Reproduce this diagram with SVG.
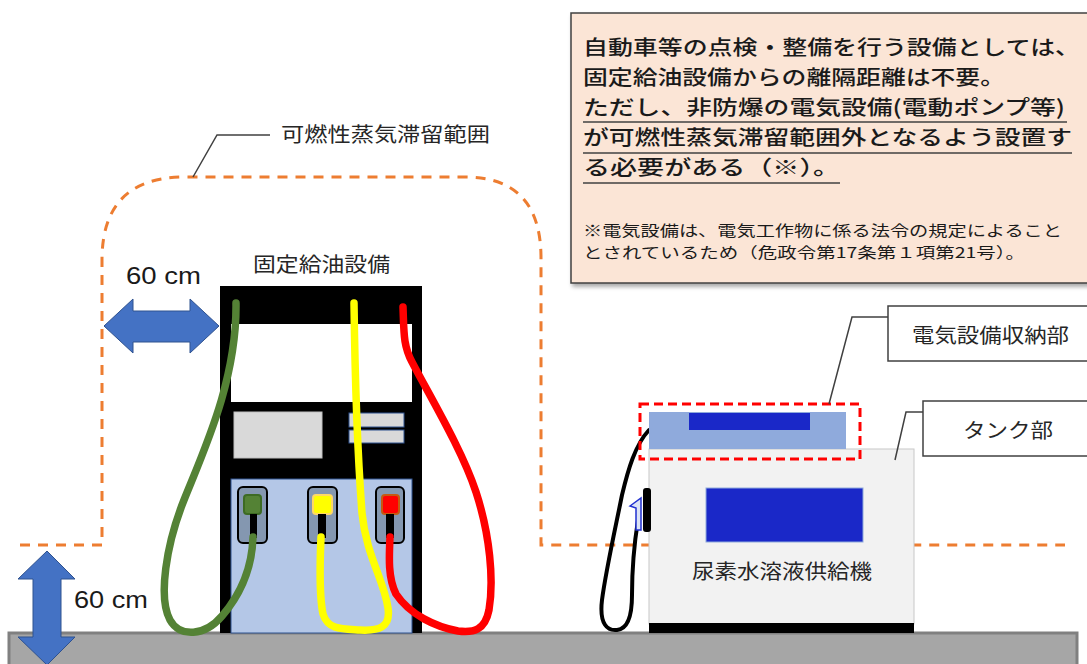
<svg xmlns="http://www.w3.org/2000/svg" width="1087" height="664" viewBox="0 0 1087 664">
  <style>
    .lbl { font-family: "Noto Sans CJK JP", "Noto Sans", sans-serif; font-size: 20px; fill: #262626; }
    .note { font-family: "Noto Sans CJK JP", "Noto Sans", sans-serif; font-size: 20.5px; fill: #1a1a1a; font-weight: 500; }
    .foot { font-family: "Noto Sans CJK JP", "Noto Sans", sans-serif; font-size: 15px; fill: #1a1a1a; }
    .dim { font-family: "Liberation Sans", Arial, sans-serif; font-size: 24px; fill: #1a1a1a; }
    .leader { fill: none; stroke: #404040; stroke-width: 1.5; }
    .callout { fill: #ffffff; stroke: #404040; stroke-width: 1.5; }
    .zone { fill: none; stroke: #ed7d31; stroke-width: 3; stroke-dasharray: 10 8; }
    .arrow { fill: #4472c4; stroke: #2f528f; stroke-width: 1; }
    .hose { fill: none; stroke-width: 7.5; stroke-linecap: round; stroke-linejoin: round; }
    .holder { fill: #8497b0; stroke: #000; stroke-width: 2; }
    .ul { stroke: #404040; stroke-width: 1.5; }
  </style>
  <defs>
    <filter id="shadow" x="-5%" y="-5%" width="115%" height="120%">
      <feDropShadow dx="2" dy="3" stdDeviation="2" flood-color="#000" flood-opacity="0.35"/>
    </filter>
  </defs>

  <rect width="1087" height="664" fill="#ffffff"/>

  <!-- ground slab -->
  <g id="ground">
    <rect x="9" y="633" width="1068" height="40" fill="#a6a6a6" stroke="#808080" stroke-width="3"/>
  </g>

  <!-- vapour retention zone outline and its callout -->
  <g id="vapour-zone">
    <path class="zone" d="M20,545 H102 V260 Q102,177 185,177 H465 Q541,177 541,258 V545 H1065"/>
    <polyline class="leader" points="193,177 217,135 270,135"/>
    <text class="lbl" x="281" y="142" textLength="209" lengthAdjust="spacingAndGlyphs">可燃性蒸気滞留範囲</text>
  </g>

  <!-- fixed fuel dispenser -->
  <g id="fuel-dispenser">
    <rect x="220" y="286" width="202" height="347" fill="#000"/>
    <rect x="231" y="324" width="181" height="78" fill="#fff"/>
    <rect x="234" y="412" width="88" height="46" fill="#d9d9d9" stroke="#bfbfbf" stroke-width="1"/>
    <rect x="349" y="413" width="55" height="14" fill="#d9d9d9" stroke="#2f528f" stroke-width="1"/>
    <rect x="349" y="430" width="55" height="13" fill="#d9d9d9" stroke="#2f528f" stroke-width="1"/>
    <rect x="231" y="479" width="181" height="154" fill="#b4c7e7" stroke="#2f528f" stroke-width="1"/>
    <rect class="holder" x="238" y="487" width="29" height="56" rx="5"/>
    <rect class="holder" x="308" y="487" width="29" height="56" rx="5"/>
    <rect class="holder" x="376" y="487" width="28" height="56" rx="5"/>
    <rect x="244" y="495" width="17" height="19" rx="3" fill="#548235" stroke="#3d6b23" stroke-width="2"/>
    <rect x="313" y="495" width="19" height="19" rx="3" fill="#ffff00" stroke="#ffd966" stroke-width="2"/>
    <rect x="382" y="495" width="17" height="19" rx="3" fill="#ff0000" stroke="#c55a11" stroke-width="2"/>
    <rect x="250" y="514" width="7" height="24" fill="#000"/>
    <rect x="318" y="514" width="8" height="24" fill="#000"/>
    <rect x="386" y="514" width="8" height="24" fill="#000"/>
    <path class="hose" stroke="#548235" d="M236,303 C237,380 204,450 184,500 C166,545 158,598 170,620 C180,638 205,636 222,616 C240,595 252,570 253,537"/>
    <path class="hose" stroke="#ffff00" d="M354,303 C355,380 358,460 362,513 C366,555 384,580 388,608 C391,628 378,631 360,630 C342,629 328,630 323,614 C319,595 320,560 321,537"/>
    <path class="hose" stroke="#ff0000" d="M403,307 C404,332 403,345 412,362 C432,400 462,450 476,492 C490,535 494,580 489,610 C485,630 474,633 458,631 C436,627 410,615 396,594 C388,578 389,558 390,537"/>
    <text class="lbl" x="253" y="272" textLength="137" lengthAdjust="spacingAndGlyphs">固定給油設備</text>
  </g>

  <!-- 60 cm horizontal clearance -->
  <g id="clearance-horizontal">
    <polygon class="arrow" points="104,326 133,299 133,311 190,311 190,299 219,326 190,353 190,342 133,342 133,353"/>
    <text class="dim" x="126" y="284" textLength="75" lengthAdjust="spacingAndGlyphs">60 cm</text>
  </g>

  <!-- 60 cm vertical clearance -->
  <g id="clearance-vertical">
    <polygon class="arrow" points="47,551 75,579 61,579 61,637 75,637 47,665 18,637 33,637 33,579 18,579"/>
    <text class="dim" x="74" y="608" textLength="74" lengthAdjust="spacingAndGlyphs">60 cm</text>
  </g>

  <!-- urea solution dispenser -->
  <g id="urea-dispenser">
    <rect x="649" y="449" width="265" height="175" fill="#f2f2f2" stroke="#c8c8c8" stroke-width="1"/>
    <rect x="649" y="623" width="265" height="10" fill="#000"/>
    <rect x="706" y="488" width="157" height="54" fill="#1a28c8" stroke="#8faadc" stroke-width="1"/>
    <text class="lbl" x="692" y="579" textLength="180" lengthAdjust="spacingAndGlyphs">尿素水溶液供給機</text>
    <path d="M649,430 C635,445 628,470 622,495 C615,530 606,570 602,600 C599,625 608,631 617,630 C628,629 632,615 632,595 C632,570 634,545 638,520" fill="none" stroke="#000" stroke-width="4" stroke-linecap="round"/>
    <polygon points="630,506 641,498 641,530 636,530 636,508" fill="#dbe3f5" stroke="#2030d0" stroke-width="1.5"/>
    <rect x="643" y="488" width="8" height="44" rx="3" fill="#000"/>
  </g>

  <!-- electrical compartment on top of the urea dispenser -->
  <g id="electrical-compartment">
    <rect x="649" y="412" width="197" height="37" fill="#8faadc"/>
    <rect x="689" y="413" width="121" height="17" fill="#1a28c8"/>
    <rect x="640" y="404" width="220" height="55" fill="none" stroke="#ff0000" stroke-width="3" stroke-dasharray="9 5"/>
  </g>

  <!-- callouts -->
  <g id="callout-electrical">
    <polyline class="leader" points="829,404 852,317 888,317"/>
    <rect class="callout" x="888" y="306" width="205" height="55"/>
    <text class="lbl" x="912" y="343" textLength="157" lengthAdjust="spacingAndGlyphs">電気設備収納部</text>
  </g>
  <g id="callout-tank">
    <polyline class="leader" points="895,460 906,412 923,412"/>
    <rect class="callout" x="923" y="401" width="170" height="55"/>
    <text class="lbl" x="963" y="438" textLength="90" lengthAdjust="spacingAndGlyphs">タンク部</text>
  </g>

  <!-- explanatory note -->
  <g id="note">
    <rect x="571" y="13" width="522" height="270" fill="#fbe5d6" stroke="#404040" stroke-width="1.5" filter="url(#shadow)"/>
    <text class="note" x="583" y="55" textLength="497" lengthAdjust="spacingAndGlyphs">自動車等の点検・整備を行う設備としては、</text>
    <text class="note" x="583" y="85" textLength="422" lengthAdjust="spacingAndGlyphs">固定給油設備からの離隔距離は不要。</text>
    <text class="note" x="583" y="115" textLength="482" lengthAdjust="spacingAndGlyphs">ただし、非防爆の電気設備(電動ポンプ等)</text>
    <line class="ul" x1="583" y1="122" x2="1067" y2="122"/>
    <text class="note" x="583" y="145" textLength="489" lengthAdjust="spacingAndGlyphs">が可燃性蒸気滞留範囲外となるよう設置す</text>
    <line class="ul" x1="583" y1="153" x2="1072" y2="153"/>
    <text class="note" x="583" y="175" textLength="257" lengthAdjust="spacingAndGlyphs">る必要がある（※）。</text>
    <line class="ul" x1="583" y1="183" x2="840" y2="183"/>
    <text class="foot" x="583" y="236" textLength="479" lengthAdjust="spacingAndGlyphs">※電気設備は、電気工作物に係る法令の規定によること</text>
    <text class="foot" x="583" y="258" textLength="442" lengthAdjust="spacingAndGlyphs">とされているため（危政令第17条第１項第21号）。</text>
  </g>
</svg>
